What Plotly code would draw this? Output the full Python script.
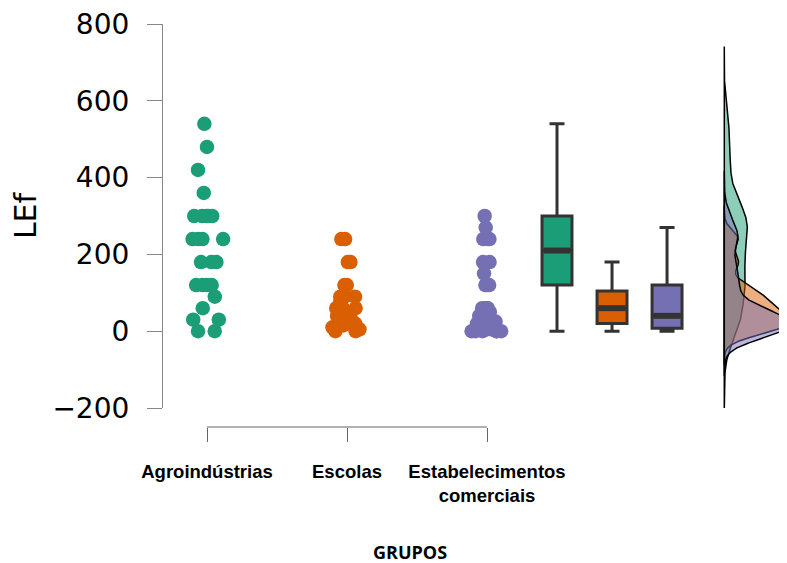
import numpy as np
import plotly.graph_objects as go

# ---- data ----
groups = ["Agroindústrias", "Escolas", "Estabelecimentos<br>comerciais"]
agro = [0, 0, 30, 30, 60, 90, 120, 120, 120, 120, 180, 180, 180,
        240, 240, 240, 240, 300, 300, 300, 300, 300, 360, 420, 480, 540]
escolas = [0, 0, 5, 10, 15, 20, 20, 30, 30, 40, 45, 60, 60, 60, 75,
           90, 90, 90, 120, 120, 180, 180, 240, 240]
estab = [0, 0, 0, 0, 0, 0, 5, 5, 5, 10, 10, 15, 15, 20, 20, 25, 30, 40, 40,
         45, 50, 60, 60, 60, 60, 120, 120, 120, 150, 180, 180, 240, 240, 240,
         270, 300]
series = [agro, escolas, estab]
colors = ["#1b9e77", "#d95f02", "#7570b3"]
fills = ["rgba(27,158,119,0.5)", "rgba(217,95,2,0.5)", "rgba(117,112,179,0.5)"]
y_ticks = [-200, 0, 200, 400, 600, 800]

# ---- layout positions (x units) ----
dot_pos = [1, 2, 3]
box_pos = [3.5, 3.893, 4.286]
dens_base = 4.695
box_w = 0.214

fig = go.Figure()

# jittered points (library jitter)
for vals, c, p in zip(series, colors, dot_pos):
    fig.add_trace(go.Box(
        y=vals, x0=p, width=0.26, boxpoints="all", jitter=1.0, pointpos=0,
        fillcolor="rgba(0,0,0,0)", line=dict(width=0, color="rgba(0,0,0,0)"),
        marker=dict(size=14.5, color=c, line=dict(width=0)),
        hoverinfo="skip", showlegend=False))

# boxplots
for vals, c, p in zip(series, colors, box_pos):
    fig.add_trace(go.Box(
        y=vals, x0=p, width=box_w, boxpoints="outliers", whiskerwidth=0.5,
        fillcolor=c, line=dict(width=3, color="#333333"),
        marker=dict(size=1, opacity=0),
        hoverinfo="skip", showlegend=False))
    med = float(np.median(vals))
    fig.add_trace(go.Scatter(
        x=[p - box_w / 2 + 0.01, p + box_w / 2 - 0.01], y=[med, med],
        mode="lines", line=dict(width=6, color="#333333"),
        hoverinfo="skip", showlegend=False))

# densities
def kde(vals, adjust=0.8, cut=4.0):
    v = np.asarray(vals, float)
    n = len(v)
    sd = v.std(ddof=1)
    q75, q25 = np.percentile(v, [75, 25])
    bw = adjust * 0.9 * min(sd, (q75 - q25) / 1.34) * n ** -0.2
    grid = np.linspace(v.min() - cut * bw, v.max() + cut * bw, 600)
    d = np.exp(-0.5 * ((grid[:, None] - v[None, :]) / bw) ** 2).sum(1) / (n * bw * np.sqrt(2 * np.pi))
    return grid, d

kdes = [kde(v) for v in series]
k = 0.165 / kdes[0][1].max()
for (g, d), f in zip(kdes, fills):
    xs = np.concatenate([dens_base + d * k, np.full(len(g), dens_base)[::-1]])
    ys = np.concatenate([g, g[::-1]])
    fig.add_trace(go.Scatter(
        x=xs, y=ys, mode="lines", fill="toself", fillcolor=f,
        line=dict(color="black", width=1.5), hoverinfo="skip", showlegend=False))

fig.add_shape(type="line", xref="x", yref="paper", x0=dot_pos[0], x1=dot_pos[-1],
              y0=0, y1=0, line=dict(color="#666666", width=1.2))

fig.add_annotation(text="<b>GRUPOS</b>", xref="x", yref="paper", x=2.45, y=-0.31,
                   showarrow=False, font=dict(family="Open Sans", size=18, color="black"),
                   xanchor="center", yanchor="middle")

# page body has an 8px margin, so the figure is 8px smaller and margins shifted
fig.update_layout(
    width=779, height=555,
    margin=dict(l=155, r=0, t=16, b=136, autoexpand=False),
    paper_bgcolor="white", plot_bgcolor="white",
    xaxis=dict(range=[0.6857, 5.1429], anchor="free", position=0, automargin=False,
               showline=False, showgrid=False, zeroline=False,
               tickmode="array", tickvals=dot_pos, ticktext=groups,
               ticks="outside", ticklen=14, tickwidth=1.2, tickcolor="#666666",
               ticklabelstandoff=14, ticklabeloverflow="allow",
               tickfont=dict(family="Liberation Sans", size=18.5, color="black", weight="bold")),
    yaxis=dict(range=[-200, 800], domain=[19 / 403, 1], automargin=False,
               showline=True, linecolor="#888888", linewidth=1.2,
               showgrid=False, zeroline=False,
               tickmode="array", tickvals=y_ticks,
               ticks="outside", ticklen=15, tickwidth=1.2, tickcolor="#888888",
               ticklabelstandoff=12, ticklabeloverflow="allow",
               tickfont=dict(family="DejaVu Sans", size=28, color="black"),
               title=dict(text="LEf", font=dict(family="DejaVu Sans", size=30, color="black"),
                          standoff=22)),
)

fig.write_html("out.html")
